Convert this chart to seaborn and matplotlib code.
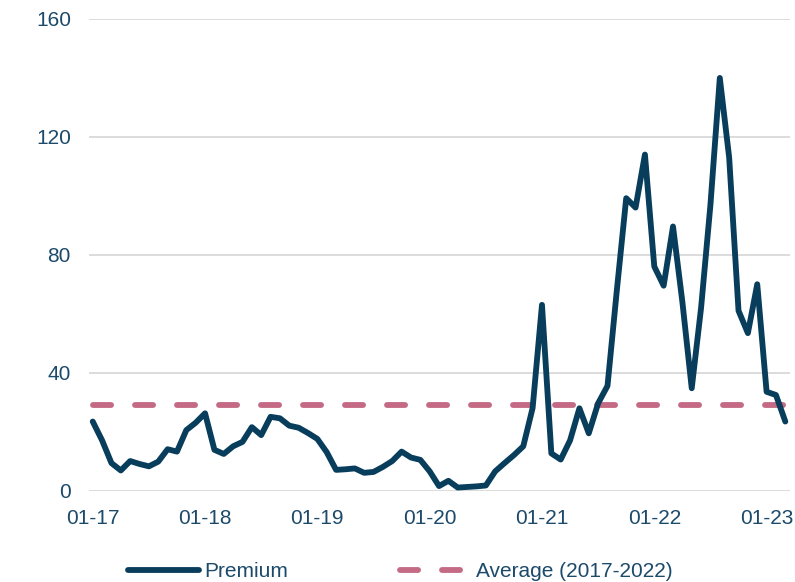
import matplotlib
matplotlib.use("Agg")
import matplotlib.pyplot as plt
import numpy as np
import pandas as pd
import seaborn as sns

# Monthly premium, Jan 2017 .. Mar 2023
premium = [
    23.4, 17.0, 9.3, 6.8, 10.0, 9.0, 8.2, 9.8, 14.0, 13.2, 20.5, 23.0,
    26.2, 13.8, 12.4, 15.0, 16.5, 21.5, 18.8, 25.0, 24.5, 22.0, 21.3, 19.5,
    17.5, 13.0, 7.0, 7.2, 7.5, 6.0, 6.3, 8.0, 10.0, 13.2, 11.2, 10.4,
    6.5, 1.5, 3.3, 1.0, 1.2, 1.4, 1.7, 6.5, 9.3, 12.0, 15.0, 28.0,
    63.0, 12.6, 10.5, 17.0, 27.9, 19.4, 29.6, 35.5, 68.0, 99.2, 96.0, 114.0,
    76.0, 69.5, 89.6, 64.0, 34.7, 62.0, 97.0, 140.0, 113.0, 61.0, 53.4, 70.0,
    33.5, 32.4, 23.4,
]
average_2017_2022 = 29.1
tick_months = [0, 12, 24, 36, 48, 60, 72]
tick_labels = ["01-17", "01-18", "01-19", "01-20", "01-21", "01-22", "01-23"]
y_ticks = [0, 40, 80, 120, 160]

navy = "#083D5C"
rose = "#C46A85"
text_col = "#1C4A6A"
lw = 4.2

months = np.arange(len(premium))
df = pd.DataFrame({
    "month": months,
    "Premium": premium,
    "Average (2017-2022)": [average_2017_2022] * len(premium),
})

sns.set_theme(style="white")
plt.rcParams["font.family"] = ["Liberation Sans", "DejaVu Sans"]

fig = plt.figure(figsize=(7.95, 5.82), dpi=100)
ax = fig.add_axes([89 / 795, 1 - 490.5 / 582, 701 / 795, (490.5 - 19) / 582])

sns.lineplot(data=df, x="month", y="Average (2017-2022)", ax=ax, color=rose,
             linewidth=lw, label="Average (2017-2022)",
             dashes=False, zorder=2)
avg_line = ax.lines[-1]
avg_line.set_dashes([3.1, 4.1])
avg_line.set_dash_capstyle("round")

sns.lineplot(data=df, x="month", y="Premium", ax=ax, color=navy,
             linewidth=lw, label="Premium", zorder=3)
prem_line = ax.lines[-1]
prem_line.set_solid_joinstyle("round")
prem_line.set_solid_capstyle("round")

ax.set_xlim(-0.4, 74.5)
ax.set_ylim(0, 160)
ax.set_yticks(y_ticks)
ax.set_yticklabels([str(v) for v in y_ticks])
ax.set_xticks(tick_months)
ax.set_xticklabels(tick_labels)
ax.set_xlabel("")
ax.set_ylabel("")
ax.grid(axis="y", color="#D9D9D9", linewidth=1.3)
ax.grid(axis="x", visible=False)
ax.set_axisbelow(True)
for s in ax.spines.values():
    s.set_visible(False)
ax.tick_params(axis="y", length=0, pad=13, labelsize=15, labelcolor=text_col)
ax.tick_params(axis="x", length=0, pad=13, labelsize=15, labelcolor=text_col)

handles, labels = ax.get_legend_handles_labels()
ax.get_legend().remove()
order = [labels.index("Premium"), labels.index("Average (2017-2022)")]
leg = fig.legend([handles[i] for i in order], [labels[i] for i in order],
                 loc="center left", bbox_to_anchor=(128 / 795, 10.5 / 582),
                 ncol=2, frameon=False, fontsize=15, handlelength=3.4,
                 handletextpad=0.25, columnspacing=5.4, borderpad=0,
                 borderaxespad=0)
for t in leg.get_texts():
    t.set_color(text_col)

fig.savefig("out.png", dpi=100)
